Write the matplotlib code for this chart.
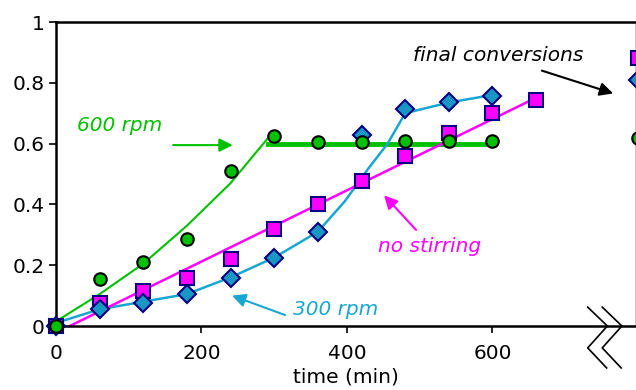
import matplotlib
matplotlib.use("Agg")
import matplotlib.pyplot as plt

# measured points (time in min, conversion)
t_meas = [0, 60, 120, 180, 240, 300, 360, 420, 480, 540, 600]
conv_600 = [0, 0.155, 0.21, 0.285, 0.51, 0.625, 0.605, 0.605, 0.61, 0.61, 0.61]
conv_300 = [0, 0.057, 0.077, 0.105, 0.157, 0.225, 0.31, 0.628, 0.713, 0.737, 0.757]
t_nostir = [0, 60, 120, 180, 240, 300, 360, 420, 480, 540, 600, 660]
conv_nostir = [0, 0.076, 0.115, 0.158, 0.22, 0.32, 0.40, 0.478, 0.558, 0.635, 0.70, 0.745]

# guide lines
fit600_t = [0, 60, 120, 180, 240, 292]
fit600_y = [0.015, 0.105, 0.205, 0.33, 0.47, 0.62]
plateau600_t = [292, 600]
plateau600_y = [0.6, 0.6]
fit300_t = [0, 60, 120, 180, 240, 300, 360, 397, 430, 456, 480, 540, 600]
fit300_y = [0.01, 0.055, 0.08, 0.105, 0.16, 0.225, 0.31, 0.41, 0.52, 0.60, 0.70, 0.735, 0.76]
fitnostir_t = [19, 655]
fitnostir_y = [0.0, 0.745]

# final conversions shown at the right edge
t_final = 800
final_600 = 0.62
final_300 = 0.81
final_nostir = 0.88

green = "#00c000"
magenta = "#ff00ff"
blue_line = "#1aa6d2"
blue_fill = "#1896c4"
navy = "#000080"

fig = plt.figure(figsize=(6.36, 3.9), dpi=100)
ax = fig.add_axes([56 / 636, 64 / 390, 579 / 636, 304 / 390])

ax.plot(fit600_t, fit600_y, color=green, lw=1.5, zorder=2)
ax.plot(plateau600_t, plateau600_y, color=green, lw=3.5, zorder=2)
ax.plot(fit300_t, fit300_y, color=blue_line, lw=1.8, zorder=2)
ax.plot(fitnostir_t, fitnostir_y, color=magenta, lw=1.8, zorder=2)

ax.plot(t_nostir, conv_nostir, ls="none", marker="s", ms=10, mfc=magenta,
        mec=navy, mew=1.5, clip_on=False, zorder=3)
ax.plot(t_meas, conv_300, ls="none", marker="D", ms=9.5, mfc=blue_fill,
        mec=navy, mew=1.5, clip_on=False, zorder=4)
ax.plot(t_meas, conv_600, ls="none", marker="o", ms=9, mfc=green,
        mec="black", mew=1.5, clip_on=False, zorder=5)

ax.plot([t_final], [final_nostir], ls="none", marker="s", ms=10, mfc=magenta,
        mec=navy, mew=1.5, clip_on=False, zorder=3)
ax.plot([t_final], [final_300], ls="none", marker="D", ms=9.5, mfc=blue_fill,
        mec=navy, mew=1.5, clip_on=False, zorder=4)
ax.plot([t_final], [final_600], ls="none", marker="o", ms=9, mfc=green,
        mec="black", mew=1.5, clip_on=False, zorder=5)

ax.set_xlim(0, 796)
ax.set_ylim(0, 1)
ax.set_xticks([0, 200, 400, 600])
ax.set_yticks([0, 0.2, 0.4, 0.6, 0.8, 1.0])
ax.set_yticklabels(["0", "0.2", "0.4", "0.6", "0.8", "1"])
ax.tick_params(labelsize=14.5, width=1.2, length=5, direction="out", pad=3)
ax.tick_params(axis="x", pad=8)
ax.set_xlabel("time (min)", fontsize=14.5, labelpad=3)

for side in ["left", "bottom", "top"]:
    ax.spines[side].set_linewidth(1.8)
ax.spines["right"].set_linewidth(0.6)
ax.spines["right"].set_color("#bbbbbb")

# axis break zigzags
for dx in [0, 20]:
    ax.plot([731 + dx, 758 + dx, 731 + dx, 757 + dx],
            [0.062, 0.0, -0.072, -0.138], color="black", lw=1.2,
            clip_on=False, zorder=6)

arrow = dict(arrowstyle="-|>", lw=1.5, mutation_scale=20, shrinkA=0, shrinkB=0)

ax.text(88, 0.66, "600 rpm", color=green, fontsize=14.5, style="italic",
        ha="center", va="center")
ax.annotate("", xy=(243, 0.595), xytext=(161, 0.595),
            arrowprops=dict(arrow, color=green))

ax.text(608, 0.89, "final conversions", color="black", fontsize=14.5,
        style="italic", ha="center", va="center")
ax.annotate("", xy=(766, 0.765), xytext=(668, 0.84),
            arrowprops=dict(arrow, color="black"), annotation_clip=False)

ax.text(514, 0.26, "no stirring", color=magenta, fontsize=14.5,
        style="italic", ha="center", va="center")
ax.annotate("", xy=(451, 0.43), xytext=(495, 0.316),
            arrowprops=dict(arrow, color=magenta))

ax.text(385, 0.053, "300 rpm", color=blue_line, fontsize=14.5,
        style="italic", ha="center", va="center")
ax.annotate("", xy=(242, 0.10), xytext=(315, 0.036),
            arrowprops=dict(arrow, color=blue_line))

fig.savefig("out.png", dpi=100)
